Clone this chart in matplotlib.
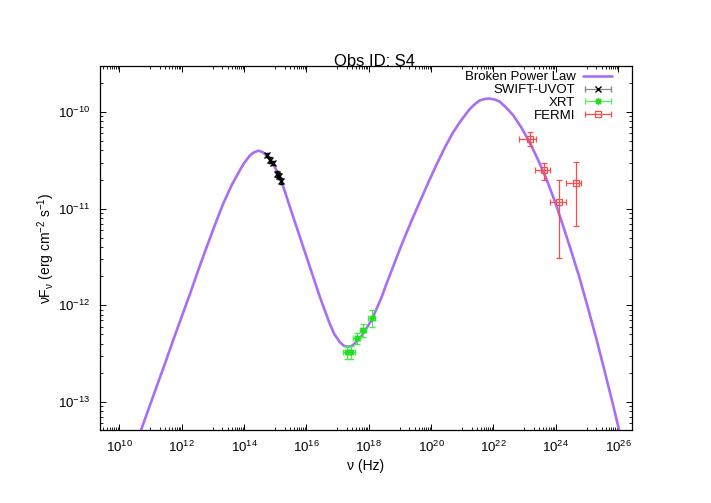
import matplotlib
matplotlib.use("Agg")
import matplotlib.pyplot as plt
import numpy as np
from matplotlib.ticker import FixedLocator, NullFormatter
from matplotlib.container import ErrorbarContainer
from matplotlib.legend_handler import HandlerErrorbar

plt.rcParams["font.family"] = ["Liberation Sans", "DejaVu Sans"]
plt.rcParams["mathtext.fontset"] = "custom"
plt.rcParams["mathtext.rm"] = "Liberation Sans"
plt.rcParams["mathtext.it"] = "Liberation Sans:italic"
plt.rcParams["mathtext.default"] = "regular"

# model curve (log10 nu, log10 nuFnu)
model_lognu = [10.62, 10.70, 10.95, 11.20, 11.47, 11.73, 12.00, 12.27, 12.53, 12.80,
               13.10, 13.33, 13.60, 13.87, 14.00, 14.19, 14.30, 14.46, 14.60, 14.72,
               14.90, 15.00, 15.15, 15.30, 15.47, 15.63, 15.79, 15.95, 16.11, 16.27,
               16.43, 16.60, 16.75, 16.90, 17.07, 17.20, 17.34, 17.47, 17.61, 17.77,
               17.93, 18.10, 18.25, 18.40, 18.57, 18.75, 18.94, 19.10, 19.37, 19.64,
               19.90, 20.17, 20.44, 20.71, 20.98, 21.24, 21.40, 21.56, 21.72, 21.88,
               22.04, 22.20, 22.40, 22.63, 22.90, 23.16, 23.43, 23.70, 23.97, 24.23,
               24.50, 24.77, 25.03, 25.30, 25.57, 25.84, 26.05, 26.10]
model_logf = [-13.37, -13.29, -13.065, -12.84, -12.60, -12.36, -12.12, -11.88, -11.64, -11.40,
              -11.14, -10.95, -10.76, -10.60, -10.53, -10.45, -10.42, -10.40, -10.415, -10.45,
              -10.52, -10.575, -10.67, -10.81, -10.98, -11.135, -11.29, -11.445, -11.60, -11.755,
              -11.91, -12.06, -12.19, -12.30, -12.38, -12.42, -12.43, -12.42, -12.38, -12.32,
              -12.24, -12.15, -12.04, -11.93, -11.78, -11.63, -11.47, -11.34, -11.13, -10.93,
              -10.74, -10.55, -10.37, -10.21, -10.08, -9.97, -9.92, -9.88, -9.865, -9.86,
              -9.87, -9.89, -9.95, -10.03, -10.16, -10.31, -10.49, -10.69, -10.92, -11.17,
              -11.44, -11.72, -12.02, -12.34, -12.68, -13.03, -13.31, -13.38]

# SWIFT-UVOT
uvot_nu = [5.5e14, 6.9e14, 8.6e14, 1.16e15, 1.35e15, 1.5e15]
uvot_f = [3.6e-11, 3.2e-11, 2.95e-11, 2.3e-11, 2.2e-11, 1.95e-11]
uvot_nu_lo = [5.1e14, 6.4e14, 8.0e14, 1.08e15, 1.26e15, 1.4e15]
uvot_nu_hi = [5.9e14, 7.4e14, 9.2e14, 1.24e15, 1.44e15, 1.6e15]
uvot_f_lo = [3.4e-11, 3.0e-11, 2.8e-11, 2.15e-11, 2.05e-11, 1.82e-11]
uvot_f_hi = [3.8e-11, 3.4e-11, 3.1e-11, 2.45e-11, 2.35e-11, 2.08e-11]

# XRT
xrt_nu = [1.95e17, 2.8e17, 4.1e17, 6.6e17, 1.26e18]
xrt_f = [3.3e-13, 3.3e-13, 4.6e-13, 5.5e-13, 7.3e-13]
xrt_nu_lo = [1.5e17, 2.2e17, 3.2e17, 5.1e17, 9.5e17]
xrt_nu_hi = [2.5e17, 3.6e17, 5.3e17, 8.5e17, 1.65e18]
xrt_f_lo = [2.8e-13, 2.8e-13, 4.0e-13, 4.7e-13, 5.9e-13]
xrt_f_hi = [3.8e-13, 3.8e-13, 5.2e-13, 6.4e-13, 8.9e-13]

# FERMI
fermi_nu = [1.45e23, 4.37e23, 1.32e24, 4.37e24]
fermi_f = [5.3e-11, 2.5e-11, 1.16e-11, 1.86e-11]
fermi_nu_lo = [6.5e22, 2.2e23, 6.8e23, 2.1e24]
fermi_nu_hi = [2.3e23, 6.8e23, 2.2e24, 6.6e24]
fermi_f_lo = [4.5e-11, 2.0e-11, 3.1e-12, 6.6e-12]
fermi_f_hi = [6.2e-11, 3.0e-11, 2.0e-11, 3.04e-11]


def errs(v, lo, hi):
    v = np.array(v)
    return [v - np.array(lo), np.array(hi) - v]


fig = plt.figure(figsize=(7.11, 5.03), dpi=100)
ax = fig.add_axes([100 / 711, 1 - 430 / 503, 532 / 711, 364 / 503])
ax.set_xscale("log")
ax.set_yscale("log")

h_model, = ax.plot(10 ** np.array(model_lognu), 10 ** np.array(model_logf),
                   color="#a86ef5", lw=1.9, zorder=2,
                   solid_joinstyle="round", solid_capstyle="round")

ax.errorbar(uvot_nu, uvot_f, xerr=errs(uvot_nu, uvot_nu_lo, uvot_nu_hi),
            yerr=errs(uvot_f, uvot_f_lo, uvot_f_hi), fmt="x", color="black",
            ms=5, mew=1.0, elinewidth=0.8, capsize=1.5, zorder=3)
ax.errorbar(xrt_nu, xrt_f, xerr=errs(xrt_nu, xrt_nu_lo, xrt_nu_hi),
            yerr=errs(xrt_f, xrt_f_lo, xrt_f_hi), fmt="none", ecolor="#44ee44",
            elinewidth=0.8, capsize=2, zorder=3)
ax.plot(xrt_nu, xrt_f, ls="none", marker=(8, 2, 0), color="#22dd22", ms=5, mew=0.9, zorder=3)
ax.errorbar(fermi_nu, fermi_f, xerr=errs(fermi_nu, fermi_nu_lo, fermi_nu_hi),
            yerr=errs(fermi_f, fermi_f_lo, fermi_f_hi), fmt="s", color="#ff4a4a",
            mfc="none", ms=5, mew=0.9, elinewidth=0.9, capsize=2.5, zorder=3)

ax.set_xlim(10 ** 9.38, 10 ** 26.45)
ax.set_ylim(5.1e-14, 3.0e-10)

# legend proxies (horizontal bars like gnuplot keys)
h_uvot = ax.errorbar([np.nan], [np.nan], xerr=[[1], [1]], fmt="x", ecolor="#888888",
                     color="black", ms=5, mew=1.0, elinewidth=0.9, capsize=2.5)
h_xrt = ax.errorbar([np.nan], [np.nan], xerr=[[1], [1]], marker=(8, 2, 0), ls="none",
                    ecolor="#55ee55", color="#22dd22", ms=5, mew=0.9, elinewidth=0.9,
                    capsize=2.5)
h_fermi = ax.errorbar([np.nan], [np.nan], xerr=[[1], [1]], fmt="s", color="#ff4a4a",
                      mfc="none", ms=5, mew=0.9, elinewidth=0.9, capsize=2.5)
ax.legend([h_model, h_uvot, h_xrt, h_fermi],
          ["Broken Power Law", "SWIFT-UVOT", "XRT", "FERMI"],
          loc="upper right", frameon=False, markerfirst=False, fontsize=9.5,
          handlelength=2.2, handletextpad=0.6, labelspacing=0.05,
          borderaxespad=0.2, bbox_to_anchor=(0.978, 1.008),
          handler_map={ErrorbarContainer: HandlerErrorbar(xerr_size=1.0, numpoints=1)})

# ticks, gnuplot style
major_x = [10.0 ** k for k in range(10, 27, 2)]
minor_x = [m * 10.0 ** k for k in range(9, 27, 2) for m in range(1, 10)]
ax.xaxis.set_major_locator(FixedLocator(major_x))
ax.xaxis.set_minor_locator(FixedLocator(minor_x))
ax.xaxis.set_minor_formatter(NullFormatter())
ax.set_xticklabels([f"$10^{{{k}}}$" for k in range(10, 27, 2)])
major_y = [10.0 ** k for k in range(-13, -9)]
minor_y = [m * 10.0 ** k for k in range(-14, -9) for m in range(2, 10)]
ax.yaxis.set_major_locator(FixedLocator(major_y))
ax.yaxis.set_minor_locator(FixedLocator(minor_y))
ax.yaxis.set_minor_formatter(NullFormatter())
ax.set_yticklabels([f"$10^{{{k}}}$" for k in range(-13, -9)])
ax.tick_params(which="both", direction="in", top=True, right=True, labelsize=9.5, pad=7)
ax.tick_params(which="major", length=4.5, width=0.7)
ax.tick_params(which="minor", length=2.2, width=0.6)
for s in ax.spines.values():
    s.set_linewidth(0.9)

ax.set_xlabel("ν (Hz)", fontsize=10, labelpad=3)
ax.set_ylabel("νF$_ν$ (erg cm$^{-2}$ s$^{-1}$)", fontsize=10, labelpad=1)
fig.text(374 / 711, 1 - 66 / 503, "Obs ID: S4", fontsize=12, ha="center", va="baseline")

fig.savefig("out.png", dpi=100)
